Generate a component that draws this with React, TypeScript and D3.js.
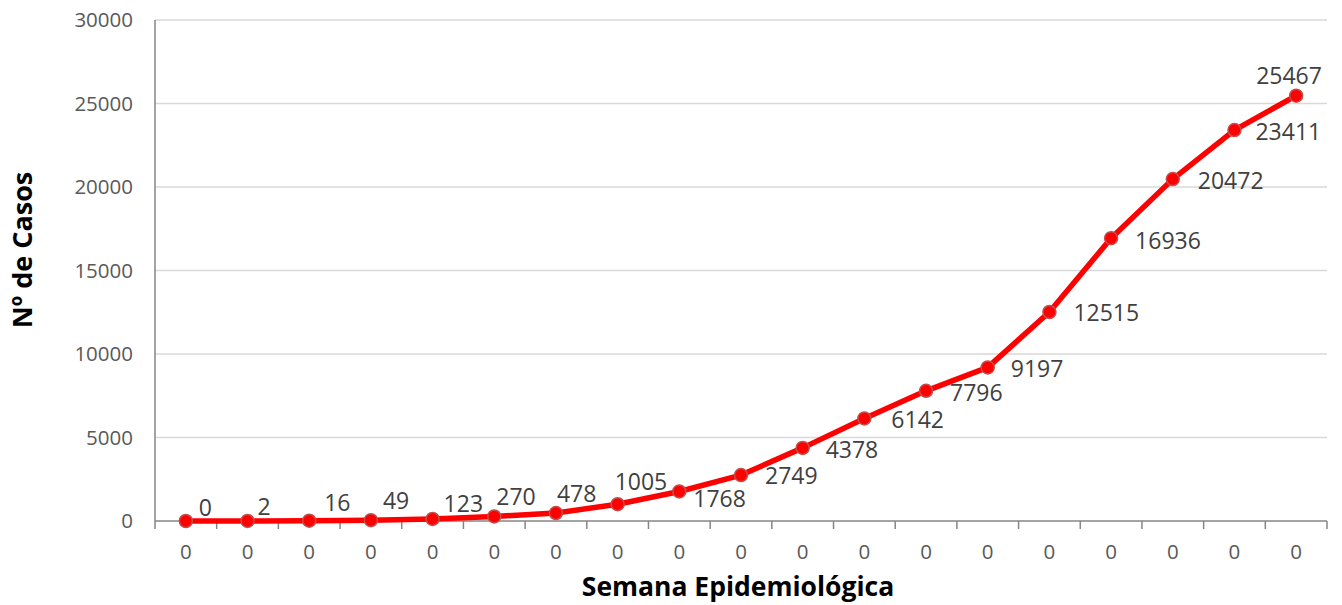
import React, { useEffect, useRef } from 'react'
import * as d3 from 'd3'

// chart data
const weeks = ['0', '0', '0', '0', '0', '0', '0', '0', '0', '0', '0', '0', '0', '0', '0', '0', '0', '0', '0']
const cases = [0, 2, 16, 49, 123, 270, 478, 1005, 1768, 2749, 4378, 6142, 7796, 9197, 12515, 16936, 20472, 23411, 25467]
const yTicks = [0, 5000, 10000, 15000, 20000, 25000, 30000]

// label nudges relative to each point (like manually dragged Excel labels)
const labelDx = [13, 10, 15, 12, 11, 2, 1, -3, 14, 24, 23, 27, 24, 23, 24, 24, 25, 21, -40]
const labelDy = [-13, -14, -18, -19, -15, -20, -19, -22, 7, 1, 2, 2, 2, 2, 1, 3, 2, 2, -20]

const FONT = "'Open Sans', sans-serif"

const App: React.FC = () => {
    const chartRef = useRef<SVGSVGElement | null>(null)

    useEffect(() => {
        if (!chartRef.current) return
        const width = 1342
        const height = 605
        const left = 155
        const right = 1327
        const top = 20
        const bottom = 521

        const svg = d3.select(chartRef.current)
        svg.selectAll('*').remove()
        svg.attr('width', width).attr('height', height).attr('viewBox', `0 0 ${width} ${height}`)

        svg.append('rect').attr('width', width).attr('height', height).attr('fill', 'white')

        const idx = weeks.map((_, i) => i)
        const x = d3.scaleBand<number>().domain(idx).range([left, right]).padding(0)
        const y = d3.scaleLinear().domain([0, 30000]).range([bottom, top])
        const cx = (i: number) => (x(i) as number) + x.bandwidth() / 2

        // gridlines
        svg.append('g')
            .selectAll('line')
            .data(yTicks.filter(t => t > 0))
            .enter()
            .append('line')
            .attr('x1', left)
            .attr('x2', right)
            .attr('y1', d => y(d))
            .attr('y2', d => y(d))
            .attr('stroke', '#d9d9d9')
            .attr('stroke-width', 1.3)

        // y axis
        svg.append('line')
            .attr('x1', left).attr('x2', left)
            .attr('y1', top).attr('y2', bottom)
            .attr('stroke', '#868686').attr('stroke-width', 1.5)

        svg.append('g')
            .selectAll('text')
            .data(yTicks)
            .enter()
            .append('text')
            .attr('x', left - 22)
            .attr('y', d => y(d))
            .attr('dy', '0.35em')
            .attr('text-anchor', 'end')
            .style('font-family', FONT)
            .style('font-size', '20.5px')
            .style('fill', '#595959')
            .text(d => d)

        // x axis
        svg.append('line')
            .attr('x1', left).attr('x2', right)
            .attr('y1', bottom).attr('y2', bottom)
            .attr('stroke', '#868686').attr('stroke-width', 1.5)

        const bounds = [...idx.map(i => x(i) as number), right]
        svg.append('g')
            .selectAll('line')
            .data(bounds)
            .enter()
            .append('line')
            .attr('x1', d => d).attr('x2', d => d)
            .attr('y1', bottom).attr('y2', bottom + 8)
            .attr('stroke', '#868686').attr('stroke-width', 1.5)

        svg.append('g')
            .selectAll('text')
            .data(weeks)
            .enter()
            .append('text')
            .attr('x', (_, i) => cx(i))
            .attr('y', 552)
            .attr('dy', '0.35em')
            .attr('text-anchor', 'middle')
            .style('font-family', FONT)
            .style('font-size', '20.5px')
            .style('fill', '#595959')
            .text(d => d)

        // line + markers
        const line = d3.line<number>()
            .x((_, i) => cx(i))
            .y(d => y(d))

        svg.append('path')
            .datum(cases)
            .attr('d', line)
            .attr('fill', 'none')
            .attr('stroke', '#ff0000')
            .attr('stroke-width', 5.5)
            .attr('stroke-linejoin', 'round')
            .attr('stroke-linecap', 'round')

        svg.append('g')
            .selectAll('circle')
            .data(cases)
            .enter()
            .append('circle')
            .attr('cx', (_, i) => cx(i))
            .attr('cy', d => y(d))
            .attr('r', 6.5)
            .attr('fill', '#ff0000')
            .attr('stroke', '#c0504d')
            .attr('stroke-width', 1.5)

        // data labels
        svg.append('g')
            .selectAll('text')
            .data(cases)
            .enter()
            .append('text')
            .attr('x', (_, i) => cx(i) + labelDx[i])
            .attr('y', (d, i) => y(d) + labelDy[i])
            .attr('dy', '0.35em')
            .style('font-family', FONT)
            .style('font-size', '23px')
            .style('fill', '#404040')
            .text(d => d)

        // axis titles
        svg.append('text')
            .attr('x', (left + right) / 2 - 3)
            .attr('y', 596)
            .attr('text-anchor', 'middle')
            .style('font-family', FONT)
            .style('font-weight', '700')
            .style('font-size', '26.5px')
            .style('fill', '#000')
            .text('Semana Epidemiológica')

        svg.append('text')
            .attr('transform', 'translate(23,250) rotate(-90)')
            .attr('dy', '0.35em')
            .attr('text-anchor', 'middle')
            .style('font-family', FONT)
            .style('font-weight', '700')
            .style('font-size', '27px')
            .style('fill', '#000')
            .text('Nº de Casos')
    }, [])

    return <svg ref={chartRef} style={{ position: 'absolute', left: 0, top: 0 }}></svg>
}

export default App
